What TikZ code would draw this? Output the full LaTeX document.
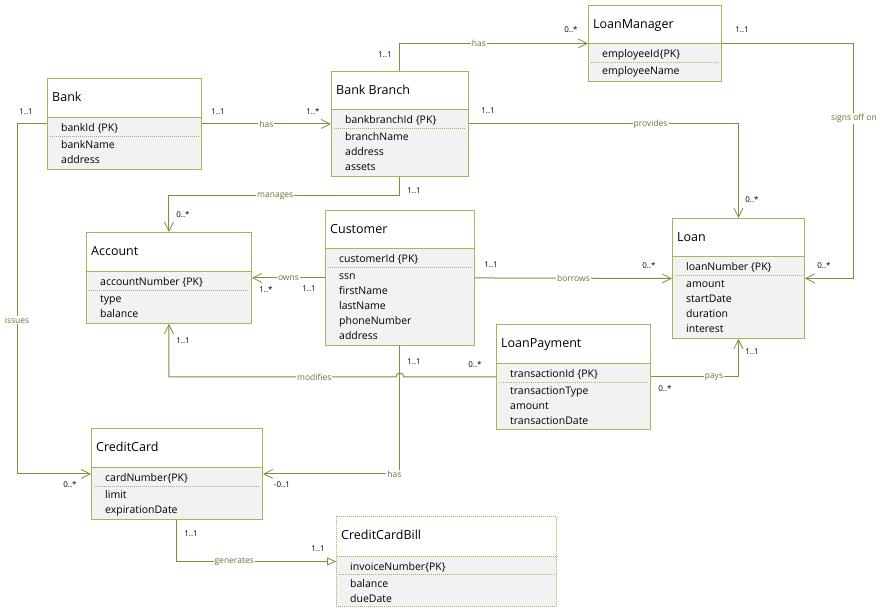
\documentclass[tikz,border=0pt]{standalone}
\usepackage{fontspec}
\setmainfont{Open Sans}
\usetikzlibrary{arrows.meta,calc}

\definecolor{umlgreen}{HTML}{9BBB59}
\definecolor{linkgreen}{HTML}{77933C}
\definecolor{labelgreen}{HTML}{5E7A2E}
\definecolor{attrgray}{HTML}{F2F2F2}

\tikzset{
  classbox/.style={draw=umlgreen, line width=0.9pt, fill=white, anchor=north west, inner sep=0pt},
  attrbox/.style={draw=umlgreen, line width=0.9pt, fill=attrgray, anchor=north west, inner sep=0pt},
  classtitle/.style={anchor=base west, inner sep=0pt, font=\fontsize{12.5}{15}\selectfont},
  attrtext/.style={anchor=north west, inner sep=0pt, align=left, font=\fontsize{10.5}{15}\selectfont},
  pkline/.style={umlgreen, line width=0.6pt, dash pattern=on 1pt off 1pt},
  assoc/.style={draw=linkgreen, line width=1pt, -{Straight Barb[length=9pt,width=9pt,line width=0.8pt]}},
  gen/.style={draw=linkgreen, line width=1pt, -{Triangle[open,length=9pt,width=8pt,line width=0.8pt]}},
  linklabel/.style={fill=white, text=labelgreen, inner sep=1pt, font=\fontsize{8.5}{10}\selectfont},
  mult/.style={inner sep=0pt, font=\fontsize{8}{10}\selectfont},
}

\begin{document}
\begin{tikzpicture}[x=1pt,y=-1pt]
\useasboundingbox (0,0) rectangle (881,615);

% Bank
\node[classbox, minimum width=154pt, minimum height=91pt] (bank) at (47,78) {};
\node[attrbox, minimum width=154pt, minimum height=52pt] (bankattr) at ([shift={(0,39)}]bank.north west) {};
\node[classtitle] (banktitle) at ([shift={(5,23.5)}]bank.north west) {Bank};
\node[attrtext] (bankpk) at ([shift={(14,3.5)}]bankattr.north west) {\strut bankId \{PK\}};
\draw[pkline] ([shift={(3,19)}]bankattr.north west) -- ([shift={(-3,19)}]bankattr.north east);
\node[attrtext] (bankcols) at ([shift={(14,20.5)}]bankattr.north west) {\strut bankName\\address};

% Bank Branch
\node[classbox, minimum width=137pt, minimum height=105pt] (branch) at (331,71) {};
\node[attrbox, minimum width=137pt, minimum height=67pt] (branchattr) at ([shift={(0,38)}]branch.north west) {};
\node[classtitle] (branchtitle) at ([shift={(5,23.5)}]branch.north west) {Bank Branch};
\node[attrtext] (branchpk) at ([shift={(14,3.5)}]branchattr.north west) {\strut bankbranchId \{PK\}};
\draw[pkline] ([shift={(3,19)}]branchattr.north west) -- ([shift={(-3,19)}]branchattr.north east);
\node[attrtext] (branchcols) at ([shift={(14,20.5)}]branchattr.north west) {\strut branchName\\address\\assets};

% LoanManager
\node[classbox, minimum width=133pt, minimum height=76pt] (lm) at (588,5) {};
\node[attrbox, minimum width=133pt, minimum height=38pt] (lmattr) at ([shift={(0,38)}]lm.north west) {};
\node[classtitle] (lmtitle) at ([shift={(5,23.5)}]lm.north west) {LoanManager};
\node[attrtext] (lmpk) at ([shift={(14,3.5)}]lmattr.north west) {\strut employeeId\{PK\}};
\draw[pkline] ([shift={(3,19)}]lmattr.north west) -- ([shift={(-3,19)}]lmattr.north east);
\node[attrtext] (lmcols) at ([shift={(14,20.5)}]lmattr.north west) {\strut employeeName};

% Loan
\node[classbox, minimum width=132pt, minimum height=120pt] (loan) at (672,218) {};
\node[attrbox, minimum width=132pt, minimum height=82pt] (loanattr) at ([shift={(0,38)}]loan.north west) {};
\node[classtitle] (loantitle) at ([shift={(5,23.5)}]loan.north west) {Loan};
\node[attrtext] (loanpk) at ([shift={(14,3.5)}]loanattr.north west) {\strut loanNumber \{PK\}};
\draw[pkline] ([shift={(3,19)}]loanattr.north west) -- ([shift={(-3,19)}]loanattr.north east);
\node[attrtext] (loancols) at ([shift={(14,20.5)}]loanattr.north west) {\strut amount\\startDate\\duration\\interest};

% Account
\node[classbox, minimum width=165pt, minimum height=91pt] (account) at (86,232) {};
\node[attrbox, minimum width=165pt, minimum height=52pt] (accountattr) at ([shift={(0,39)}]account.north west) {};
\node[classtitle] (accounttitle) at ([shift={(5,23.5)}]account.north west) {Account};
\node[attrtext] (accountpk) at ([shift={(14,3.5)}]accountattr.north west) {\strut accountNumber \{PK\}};
\draw[pkline] ([shift={(3,19)}]accountattr.north west) -- ([shift={(-3,19)}]accountattr.north east);
\node[attrtext] (accountcols) at ([shift={(14,20.5)}]accountattr.north west) {\strut type\\balance};

% Customer
\node[classbox, minimum width=149pt, minimum height=135pt] (customer) at (325,210) {};
\node[attrbox, minimum width=149pt, minimum height=97pt] (customerattr) at ([shift={(0,38)}]customer.north west) {};
\node[classtitle] (customertitle) at ([shift={(5,23.5)}]customer.north west) {Customer};
\node[attrtext] (customerpk) at ([shift={(14,3.5)}]customerattr.north west) {\strut customerId \{PK\}};
\draw[pkline] ([shift={(3,19)}]customerattr.north west) -- ([shift={(-3,19)}]customerattr.north east);
\node[attrtext] (customercols) at ([shift={(14,20.5)}]customerattr.north west) {\strut ssn\\firstName\\lastName\\phoneNumber\\address};

% LoanPayment
\node[classbox, minimum width=154pt, minimum height=105pt] (lp) at (496,324) {};
\node[attrbox, minimum width=154pt, minimum height=66pt] (lpattr) at ([shift={(0,39)}]lp.north west) {};
\node[classtitle] (lptitle) at ([shift={(5,23.5)}]lp.north west) {LoanPayment};
\node[attrtext] (lppk) at ([shift={(14,3.5)}]lpattr.north west) {\strut transactionId \{PK\}};
\draw[pkline] ([shift={(3,19)}]lpattr.north west) -- ([shift={(-3,19)}]lpattr.north east);
\node[attrtext] (lpcols) at ([shift={(14,20.5)}]lpattr.north west) {\strut transactionType\\amount\\transactionDate};

% CreditCard
\node[classbox, minimum width=171pt, minimum height=91pt] (cc) at (91,428) {};
\node[attrbox, minimum width=171pt, minimum height=52pt] (ccattr) at ([shift={(0,39)}]cc.north west) {};
\node[classtitle] (cctitle) at ([shift={(5,23.5)}]cc.north west) {CreditCard};
\node[attrtext] (ccpk) at ([shift={(14,3.5)}]ccattr.north west) {\strut cardNumber\{PK\}};
\draw[pkline] ([shift={(3,19)}]ccattr.north west) -- ([shift={(-3,19)}]ccattr.north east);
\node[attrtext] (cccols) at ([shift={(14,20.5)}]ccattr.north west) {\strut limit\\expirationDate};

% CreditCardBill (dotted)
\node[classbox, dash pattern=on 1pt off 1pt, minimum width=220pt, minimum height=90pt] (ccb) at (336,516) {};
\node[attrbox, dash pattern=on 1pt off 1pt, minimum width=220pt, minimum height=50pt] (ccbattr) at ([shift={(0,40)}]ccb.north west) {};
\node[classtitle] (ccbtitle) at ([shift={(5,23.5)}]ccb.north west) {CreditCardBill};
\node[attrtext] (ccbpk) at ([shift={(14,3.5)}]ccbattr.north west) {\strut invoiceNumber\{PK\}};
\draw[pkline] ([shift={(3,18)}]ccbattr.north west) -- ([shift={(-3,18)}]ccbattr.north east);
\node[attrtext] (ccbcols) at ([shift={(14,20.5)}]ccbattr.north west) {\strut balance\\dueDate};

% connectors
\draw[assoc] (bank.east) -- node[linklabel] (lhas1) {has} (branch.west);
\draw[assoc] (branch.north) |- node[linklabel, pos=0.71] (lhas2) {has} (lm.west);
\draw[assoc] (branch.east) -| node[linklabel, pos=0.337] (lprov) {provides} (loan.north);
\draw[assoc] (lm.east) -- ++(132,0) |- node[linklabel, pos=0.16] (lsign) {signs off on} (loan.east);
\draw[assoc] (branch.south) -- ++(0,19) -| node[linklabel, pos=0.27] (lman) {manages} (account.north);
\draw[assoc] (customer.west) -- node[linklabel] (lowns) {owns} (account.east);
\draw[assoc] (customer.east) -- node[linklabel] (lborr) {borrows} (loan.west);
\draw[assoc] (lp.west) -- ($(customer.south |- lp.west)+(4,0)$) arc[start angle=0, end angle=180, radius=4pt]
  -| node[linklabel, pos=0.18] (lmod) {modifies} (account.south);
\draw[assoc] (lp.east) -| node[linklabel, pos=0.36] (lpays) {pays} (loan.south);
\draw[assoc] (customer.south) |- node[linklabel, pos=0.52] (lhas3) {has} (cc.east);
\draw[assoc] (bank.west) -- ++(-30,0) |- node[linklabel, pos=0.28] (liss) {issues} (cc.west);
\draw[gen] (cc.south) |- node[linklabel, pos=0.68] (lgen) {generates} (ccb.west);

% multiplicities
\node[mult] (m1) at (26,112) {1..1};
\node[mult] (m2) at (218,112) {1..1};
\node[mult] (m3) at (313,112) {1..*};
\node[mult] (m4) at (385,55) {1..1};
\node[mult] (m5) at (571,30) {0..*};
\node[mult] (m6) at (488,111) {1..1};
\node[mult] (m7) at (752,200) {0..*};
\node[mult] (m8) at (742,30) {1..1};
\node[mult] (m9) at (824,266) {0..*};
\node[mult] (m10) at (414,191) {1..1};
\node[mult] (m11) at (183,215) {0..*};
\node[mult] (m12) at (266,290) {1..*};
\node[mult] (m13) at (309,289) {1..1};
\node[mult] (m14) at (491,265) {1..1};
\node[mult] (m15) at (649,266) {0..*};
\node[mult] (m16) at (183,341) {1..1};
\node[mult] (m17) at (475,365) {0..*};
\node[mult] (m18) at (414,362) {1..1};
\node[mult] (m19) at (665,389) {0..*};
\node[mult] (m20) at (752,352) {1..1};
\node[mult] (m21) at (282,485) {-0..1};
\node[mult] (m22) at (70,485) {0..*};
\node[mult] (m23) at (191,534) {1..1};
\node[mult] (m24) at (318,549) {1..1};
\end{tikzpicture}
\end{document}
